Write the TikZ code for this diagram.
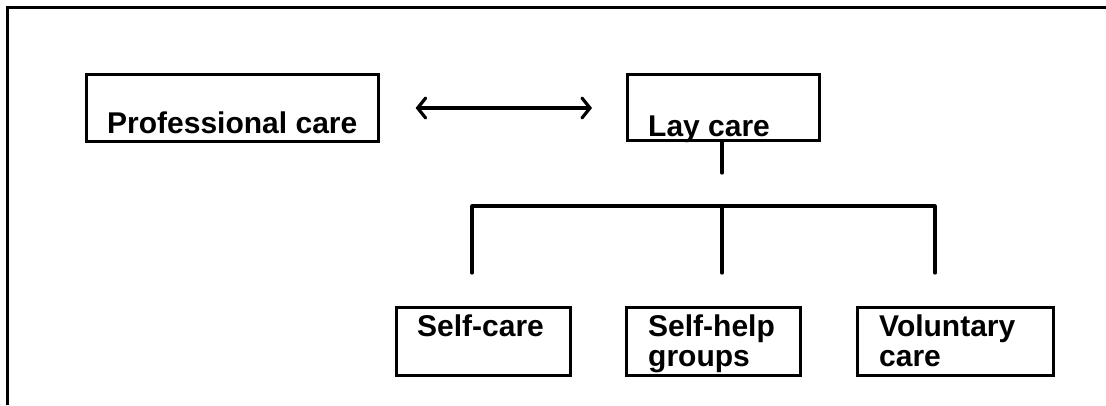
\documentclass[tikz,border=0pt]{standalone}
\usepackage{fontspec}
\setmainfont{Liberation Sans}
\usetikzlibrary{arrows.meta}
\begin{document}
\begin{tikzpicture}[x=1pt,y=-1pt,
  carebox/.style={draw, line width=2.6pt, rectangle, inner sep=0pt, anchor=north west},
  caretext/.style={anchor=base west, inner sep=0pt, font=\fontsize{30}{30}\selectfont\bfseries},
  link/.style={draw, line width=3.2pt, line cap=round},
  frame/.style={draw, line width=3pt}]
\useasboundingbox (0,0) rectangle (1106,405);
% outer frame (top and left only)
\coordinate (ftl) at (7,7);
\coordinate (ftr) at (1106,7);
\coordinate (fbl) at (7,405);
\path[frame] (ftr) -- (ftl) -- (fbl);
% boxes
\node[carebox, minimum width=292pt, minimum height=67pt] (pc) at (85,73) {};
\node[carebox, minimum width=192pt, minimum height=66pt] (lay) at (626,73) {};
\node[carebox, minimum width=174pt, minimum height=68pt] (sc) at (395,306) {};
\node[carebox, minimum width=174pt, minimum height=68pt] (sh) at (625,306) {};
\node[carebox, minimum width=196pt, minimum height=68pt] (vc) at (856,306) {};
% texts
\node[caretext] (pct) at (107,133) {Professional care};
\node[caretext] (layt) at (648,136) {Lay care};
\node[caretext] (sct) at (417,336) {Self-care};
\node[caretext] (sht1) at (648,336) {Self-help};
\node[caretext] (sht2) at (648,366) {groups};
\node[caretext] (vct1) at (879,336) {Voluntary};
\node[caretext] (vct2) at (879,366) {care};
% double arrow
\path[link, line join=round, {Straight Barb[length=8pt,width=20pt,line cap=round]}-{Straight Barb[length=8pt,width=20pt,line cap=round]},
      shorten <=36pt, shorten >=34pt] (pc.east |- 0,108) -- (lay.west |- 0,108);
% tree
\coordinate (lstem) at (722,173);
\coordinate (j1) at (472,206);
\coordinate (j2) at (722,206);
\coordinate (j3) at (935,206);
\coordinate (e1) at (472,273);
\coordinate (e2) at (722,273);
\coordinate (e3) at (935,273);
\path[link] (lay.south -| lstem) -- (lstem);
\path[link, line join=round] (e1) -- (j1) -- (j3) -- (e3);
\path[link] (j2) -- (e2);
\end{tikzpicture}
\end{document}
